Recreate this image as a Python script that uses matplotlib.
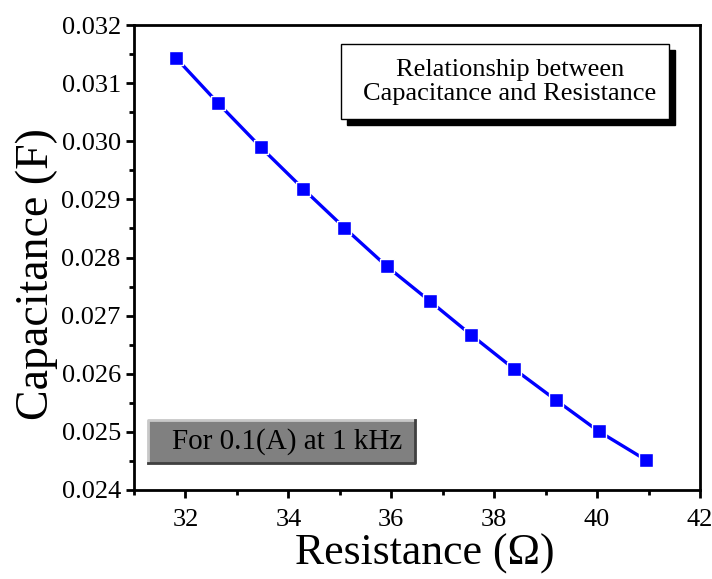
import matplotlib
matplotlib.use('Agg')
import matplotlib.pyplot as plt
from matplotlib.patches import Rectangle
from matplotlib.lines import Line2D

# DATA ------------------------------------------------------------------------
resistance = [31.82, 32.64, 33.46, 34.29, 35.09, 35.91, 36.75, 37.55, 38.39, 39.21, 40.03, 40.96]
capacitance = [0.03143, 0.03065, 0.02990, 0.02918, 0.02851, 0.02785, 0.02725, 0.02667,
               0.02608, 0.02554, 0.02501, 0.02451]

plt.rcParams['font.family'] = 'Liberation Serif'

fig = plt.figure(figsize=(7.12, 5.79), dpi=100)
ax = fig.add_axes([134/712, 89/579, 566/712, 465/579])

ax.plot(resistance, capacitance, '-', color='#0000ff', lw=2.4, zorder=2)
ax.plot(resistance, capacitance, 's', color='#0000ff', ms=10,
        mec='white', mew=1.0, zorder=3)

ax.set_xlim(31, 42)
ax.set_ylim(0.024, 0.032)
ax.set_xticks([32, 34, 36, 38, 40, 42])
ax.set_xticks([31, 33, 35, 37, 39, 41], minor=True)
ax.set_yticks([0.024 + 0.001*i for i in range(9)])
ax.set_yticks([0.0245 + 0.001*i for i in range(8)], minor=True)
ax.yaxis.set_major_formatter(matplotlib.ticker.FormatStrFormatter('%.3f'))

for s in ['left', 'bottom', 'top', 'right']:
    ax.spines[s].set_linewidth(2)
ax.tick_params(which='major', direction='out', length=6, width=2, labelsize=19,
               top=False, right=False)
ax.tick_params(axis='x', which='major', pad=8)
ax.tick_params(which='minor', direction='out', length=3.5, width=2,
               top=False, right=False)

ax.set_xlabel('Resistance (Ω)', fontsize=31.5)
ax.set_ylabel('Capacitance (F)', fontsize=33)
ax.xaxis.set_label_coords(0.514, -0.093)
ax.yaxis.set_label_coords(-0.134, 0.465)

# title box with shadow
fig.text(510/712, 1 - 82/579, 'Relationship between\nCapacitance and Resistance',
         ha='center', va='center', fontsize=19, linespacing=1.1, zorder=6)
fig.patches.append(Rectangle((347/712, 1 - 125/579), 328/712, 75/579,
                             transform=fig.transFigure, facecolor='black',
                             edgecolor='black', zorder=4))
fig.patches.append(Rectangle((341/712, 1 - 119/579), 328/712, 75/579,
                             transform=fig.transFigure, facecolor='white',
                             edgecolor='black', lw=1, zorder=5))

# grey note box with bevel
x0, x1, y0, y1 = 148/712, 415/712, 1 - 463/579, 1 - 420/579
fig.patches.append(Rectangle((x0, y0), x1 - x0, y1 - y0, transform=fig.transFigure,
                             facecolor='#808080', edgecolor='none', zorder=4))
fig.lines.append(Line2D([x0, x0, x1], [y0, y1, y1], transform=fig.transFigure,
                        color='#c8c8c8', lw=2, zorder=5))
fig.lines.append(Line2D([x0, x1, x1], [y0, y0, y1], transform=fig.transFigure,
                        color='#404040', lw=2, zorder=5))
fig.text(287/712, 1 - 442/579, 'For 0.1(A) at 1 kHz',
         ha='center', va='center', fontsize=21, zorder=6)

fig.savefig('out.png', dpi=100)
